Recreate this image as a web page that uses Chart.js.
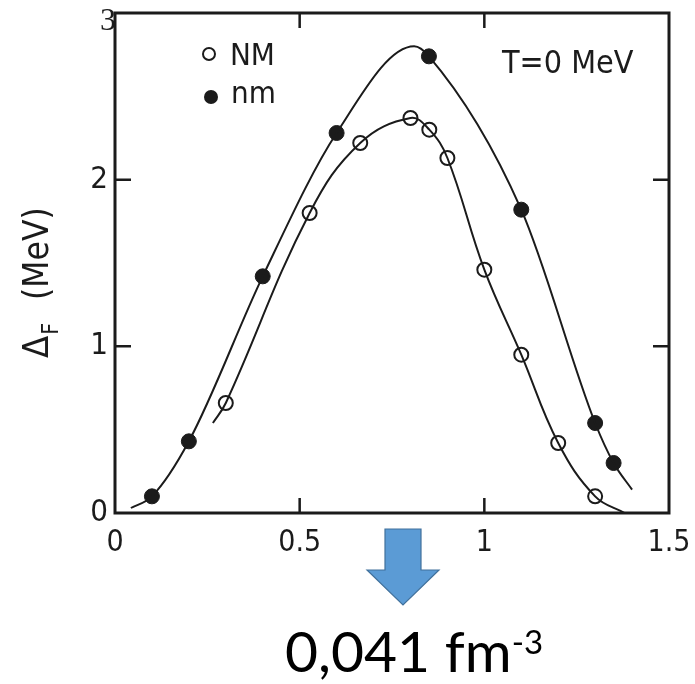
<!DOCTYPE html>
<html>
<head>
<meta charset="utf-8">
<script src="https://cdn.jsdelivr.net/npm/chart.js@4.4.1/dist/chart.umd.min.js"></script>
<style>
  html, body { margin: 0; padding: 0; background: #fff; }
  #wrap { position: relative; width: 695px; height: 684px; overflow: hidden; }
  #gap { position: absolute; left: 0; top: 0; }
  #arrow { position: absolute; left: 0; top: 0; }
  #density {
    position: absolute; left: 285px; top: 622px;
    font-family: Lato, "Open Sans", sans-serif; font-size: 57px; color: #000;
    white-space: nowrap; line-height: 1;
  }
  #density sup { font-size: 33px; vertical-align: 0; position: relative; top: -18px; }
</style>
</head>
<body>
<div id="wrap">
  <canvas id="gap" width="695" height="684"></canvas>
  <svg id="arrow" width="695" height="684">
    <polygon points="385,529 421,529 421,570 439,570 403,605 367,570 385,570"
             fill="#5b9bd5" stroke="#41719c" stroke-width="1.2"/>
  </svg>
  <div id="density">0,041 fm<sup>-3</sup></div>
</div>
<script>
// pairing gap vs. density, measured points
const nmX = [0.1, 0.2, 0.4, 0.6, 0.85, 1.1, 1.3, 1.35];
const nmY = [0.10, 0.43, 1.42, 2.28, 2.74, 1.82, 0.54, 0.30];
const NMX = [0.3, 0.527, 0.664, 0.8, 0.851, 0.9, 1.0, 1.1, 1.2, 1.3];
const NMY = [0.66, 1.80, 2.22, 2.37, 2.30, 2.13, 1.46, 0.95, 0.42, 0.10];

// fitted curves through them
const nmCurveX = [0.043, 0.1, 0.2, 0.4, 0.6, 0.81, 0.85, 1.1, 1.3, 1.35, 1.40];
const nmCurveY = [0.03, 0.10, 0.43, 1.42, 2.28, 2.80, 2.74, 1.82, 0.54, 0.30, 0.14];
const NMCurveX = [0.265, 0.3, 0.527, 0.664, 0.8, 0.851, 0.9, 1.0, 1.1, 1.2, 1.3, 1.38];
const NMCurveY = [0.54, 0.66, 1.80, 2.22, 2.37, 2.30, 2.13, 1.46, 0.95, 0.42, 0.10, 0.0];

const xTicks = [0, 0.5, 1, 1.5];
const yTicks = [0, 1, 2, 3];

const INK = '#1b1b1b';
const FONT = '"DejaVu Sans Condensed", "Liberation Sans Narrow", "DejaVu Sans", sans-serif';

const pts = (xs, ys) => xs.map((x, i) => ({ x: x, y: ys[i] }));

// keep the plot box fixed regardless of label overhang
const noPad = s => { s.paddingLeft = s.paddingRight = s.paddingTop = s.paddingBottom = 0; };

const frame = {
  id: 'frame',
  afterDraw(chart) {
    const { ctx, chartArea: a, scales: { x, y } } = chart;
    ctx.save();
    ctx.strokeStyle = INK;
    ctx.lineWidth = 3;
    ctx.strokeRect(a.left, a.top, a.right - a.left, a.bottom - a.top);

    // inward ticks on all four sides
    ctx.lineWidth = 2.5;
    ctx.beginPath();
    xTicks.slice(1, -1).forEach(v => {
      const px = x.getPixelForValue(v);
      ctx.moveTo(px, a.bottom); ctx.lineTo(px, a.bottom - 15);
      ctx.moveTo(px, a.top); ctx.lineTo(px, a.top + 15);
    });
    yTicks.slice(1, -1).forEach(v => {
      const py = y.getPixelForValue(v);
      ctx.moveTo(a.left, py); ctx.lineTo(a.left + 16, py);
      ctx.moveTo(a.right, py); ctx.lineTo(a.right - 16, py);
    });
    ctx.stroke();

    // top value label
    ctx.fillStyle = INK;
    ctx.font = '32px "Liberation Serif", serif';
    ctx.textAlign = 'right';
    ctx.textBaseline = 'middle';
    ctx.fillText(String(yTicks[yTicks.length - 1]), a.left + 1, y.getPixelForValue(3) + 9);

    // legend
    ctx.font = '31px ' + FONT;
    ctx.textAlign = 'left';
    ctx.textBaseline = 'alphabetic';
    ctx.lineWidth = 2;
    ctx.beginPath();
    ctx.arc(209, 54, 6, 0, Math.PI * 2);
    ctx.stroke();
    ctx.fillText('NM', 230, 65);
    ctx.beginPath();
    ctx.arc(211, 97, 7, 0, Math.PI * 2);
    ctx.fill();
    ctx.fillText('nm', 231, 103);

    ctx.font = '32px ' + FONT;
    ctx.fillText('T=0 MeV', 502, 73);

    // axis title, rotated
    ctx.translate(48, 358);
    ctx.rotate(-Math.PI / 2);
    ctx.font = '36px ' + FONT;
    ctx.fillText('\u0394', 0, 0);
    let w = ctx.measureText('\u0394').width;
    ctx.font = '23px ' + FONT;
    ctx.fillText('F', w + 1, 10);
    w += ctx.measureText('F').width + 24;
    ctx.font = '35px ' + FONT;
    ctx.fillText('(MeV)', w, 0);
    ctx.restore();
  }
};

const curve = (xs, ys, smooth) => Object.assign({
  data: pts(xs, ys),
  showLine: true,
  borderColor: INK,
  borderWidth: 2,
  pointRadius: 0
}, smooth);

new Chart(document.getElementById('gap'), {
  type: 'scatter',
  data: {
    datasets: [
      Object.assign({ label: 'nm fit' }, curve(nmCurveX, nmCurveY, { cubicInterpolationMode: 'monotone' })),
      Object.assign({ label: 'NM fit' }, curve(NMCurveX, NMCurveY, { tension: 0.4 })),
      {
        label: 'NM',
        data: pts(NMX, NMY),
        pointRadius: 7,
        pointBorderWidth: 2,
        borderColor: INK,
        backgroundColor: 'rgba(0,0,0,0)'
      },
      {
        label: 'nm',
        data: pts(nmX, nmY),
        pointRadius: 7.5,
        pointBorderWidth: 1,
        borderColor: INK,
        backgroundColor: INK
      }
    ]
  },
  options: {
    responsive: false,
    animation: false,
    layout: { padding: { top: 13, right: 26, left: 0, bottom: 0 } },
    plugins: { legend: { display: false }, tooltip: { enabled: false } },
    scales: {
      x: {
        type: 'linear',
        min: 0,
        max: 1.5,
        afterFit: s => { s.height = 171; noPad(s); },
        afterBuildTicks: s => { s.ticks = xTicks.map(v => ({ value: v })); },
        grid: { display: false, drawTicks: false },
        border: { display: false },
        ticks: {
          color: INK,
          font: { family: FONT, size: 30 },
          padding: 12,
          callback: v => String(v)
        }
      },
      y: {
        type: 'linear',
        min: 0,
        max: 3,
        afterFit: s => { s.width = 115; noPad(s); },
        afterBuildTicks: s => { s.ticks = yTicks.map(v => ({ value: v })); },
        grid: { display: false, drawTicks: false },
        border: { display: false },
        ticks: {
          color: INK,
          font: { family: FONT, size: 31 },
          padding: 7,
          callback: v => (v === 3 ? '' : String(v))
        }
      }
    }
  },
  plugins: [frame]
});
</script>
</body>
</html>
